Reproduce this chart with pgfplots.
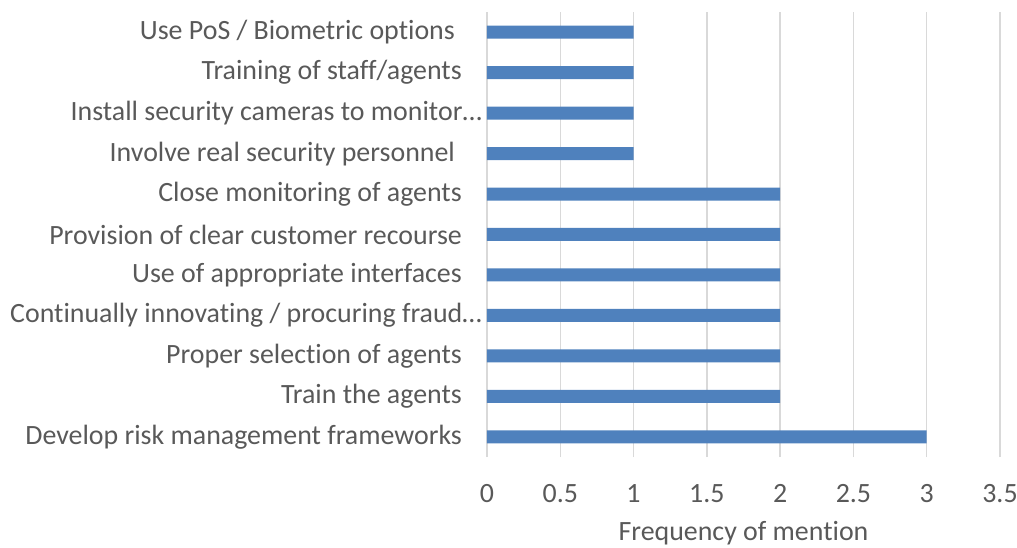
\documentclass[border=0pt]{standalone}
\usepackage{pgfplots}
\pgfplotsset{compat=1.18}
\usepackage{fontspec}
\setmainfont{Carlito}[Ligatures={NoCommon}]
\definecolor{barblue}{HTML}{4F81BD}
\definecolor{txtgray}{HTML}{595959}
\definecolor{gridgray}{HTML}{D9D9D9}
\begin{document}
\begin{tikzpicture}
\begin{axis}[
    name=ax,
    xbar,
    bar width=13bp,
    scale only axis,
    width=513bp,
    height=445bp,
    xmin=0, xmax=3.5,
    ymin=-0.5, ymax=10.5,
    xtick={0,0.5,...,3.5},
    ytick={0,...,10},
    yticklabels={
        Develop risk management frameworks,
        Train the agents,
        Proper selection of agents,
        Continually innovating / procuring fraud…\kern-20bp\mbox{},
        Use of appropriate interfaces,
        Provision of clear customer recourse,
        Close monitoring of agents,
        Involve real security personnel\kern0.25em\mbox{},
        Install security cameras to monitor…\kern-20bp\mbox{},
        Training of staff/agents,
        Use PoS / Biometric options\kern0.25em\mbox{}
    },
    axis line style={draw=none},
    major tick length=0pt,
    xmajorgrids=true,
    grid style={gridgray, line width=1.5bp},
    tick label style={font=\fontsize{28}{33}\selectfont, text=txtgray, inner sep=0pt},
    yticklabel style={anchor=east, xshift=-25bp},
    xticklabel style={anchor=north, yshift=-27bp},
    /pgf/number format/assume math mode=true,
    xlabel={Frequency of mention},
    xlabel style={font=\fontsize{28}{33}\selectfont, text=txtgray,
        at={(axis description cs:0.5,0)}, anchor=center, yshift=-76bp},
    clip=false,
]
\addplot[fill=barblue, draw=none] coordinates {
    (3,0) (2,1) (2,2) (2,3) (2,4) (2,5) (2,6) (1,7) (1,8) (1,9) (1,10)
};
\end{axis}
\pgfresetboundingbox
\path ([shift={(-487bp,-91bp)}]ax.south west) rectangle ([shift={(17bp,12bp)}]ax.north east);
\end{tikzpicture}
\end{document}
